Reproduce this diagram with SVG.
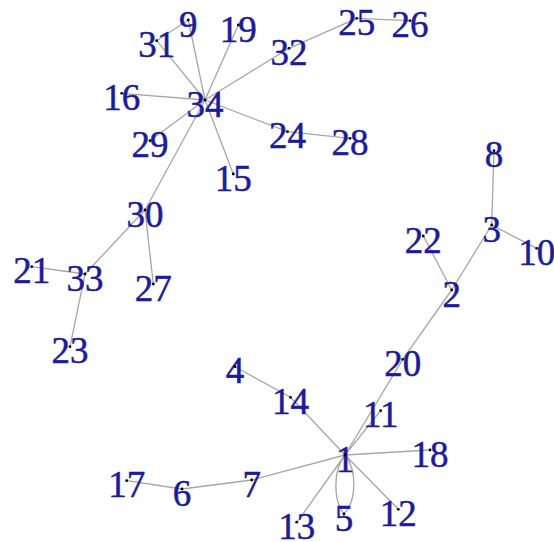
<svg xmlns="http://www.w3.org/2000/svg" width="554" height="542" viewBox="0 0 554 542">
<style>
.e{stroke:#a6a6a6;stroke-width:1.3;fill:none}
.n text{font-family:"Liberation Serif","Times New Roman",serif;font-size:37px;fill:#1c1c98;stroke:#1c1c98;stroke-width:0.5;text-anchor:middle}
.n circle{fill:#000}
</style>
<rect width="554" height="542" fill="#fff"/>
<g id="edges">
<line class="e" x1="188.3" y1="20" x2="156.7" y2="40.7"/>
<line class="e" x1="188.3" y1="20" x2="205" y2="100"/>
<line class="e" x1="156.7" y1="40.7" x2="205" y2="100"/>
<line class="e" x1="238.3" y1="25" x2="205" y2="100"/>
<line class="e" x1="289" y1="48.3" x2="205" y2="100"/>
<line class="e" x1="121.7" y1="93.3" x2="205" y2="100"/>
<line class="e" x1="150" y1="140.7" x2="205" y2="100"/>
<line class="e" x1="287.5" y1="131.7" x2="205" y2="100"/>
<line class="e" x1="233.3" y1="174" x2="205" y2="100"/>
<line class="e" x1="145" y1="210" x2="205" y2="100"/>
<line class="e" x1="289" y1="48.3" x2="356.7" y2="18.3"/>
<line class="e" x1="356.7" y1="18.3" x2="410" y2="20.7"/>
<line class="e" x1="287.5" y1="131.7" x2="350" y2="138.3"/>
<line class="e" x1="145" y1="210" x2="85" y2="274"/>
<line class="e" x1="145" y1="210" x2="153.3" y2="284"/>
<line class="e" x1="85" y1="274" x2="31.7" y2="266.7"/>
<line class="e" x1="85" y1="274" x2="70" y2="346.7"/>
<line class="e" x1="491.7" y1="225" x2="494" y2="150.7"/>
<line class="e" x1="491.7" y1="225" x2="536.7" y2="248.3"/>
<line class="e" x1="491.7" y1="225" x2="451.7" y2="290"/>
<line class="e" x1="451.7" y1="290" x2="423.3" y2="236"/>
<line class="e" x1="451.7" y1="290" x2="402.7" y2="359.3"/>
<line class="e" x1="402.7" y1="359.3" x2="345" y2="455"/>
<line class="e" x1="380.7" y1="410.7" x2="345" y2="455"/>
<line class="e" x1="290.5" y1="397.3" x2="345" y2="455"/>
<line class="e" x1="290.5" y1="397.3" x2="235" y2="366.7"/>
<line class="e" x1="430" y1="450" x2="345" y2="455"/>
<line class="e" x1="398.3" y1="509.3" x2="345" y2="455"/>
<line class="e" x1="296.7" y1="522.7" x2="345" y2="455"/>
<line class="e" x1="251.7" y1="480" x2="345" y2="455"/>
<line class="e" x1="251.7" y1="480" x2="182" y2="489"/>
<line class="e" x1="182" y1="489" x2="126.7" y2="480.7"/>
<path class="e" d="M345,455 C333,470 333,500 344,514"/>
<path class="e" d="M345,455 C357,470 357,500 344,514"/>
</g>
<g id="n1" class="n"><text x="345" y="471.5">1</text><circle cx="345" cy="455" r="1.4"/></g>
<g id="n2" class="n"><text x="451.7" y="306.5">2</text><circle cx="451.7" cy="290" r="1.4"/></g>
<g id="n3" class="n"><text x="491.7" y="241.5">3</text><circle cx="491.7" cy="225" r="1.4"/></g>
<g id="n4" class="n"><text x="235" y="383.2">4</text><circle cx="235" cy="366.7" r="1.4"/></g>
<g id="n5" class="n"><text x="344" y="530.5">5</text><circle cx="344" cy="514" r="1.4"/></g>
<g id="n6" class="n"><text x="182" y="505.5">6</text><circle cx="182" cy="489" r="1.4"/></g>
<g id="n7" class="n"><text x="251.7" y="496.5">7</text><circle cx="251.7" cy="480" r="1.4"/></g>
<g id="n8" class="n"><text x="494" y="167.2">8</text><circle cx="494" cy="150.7" r="1.4"/></g>
<g id="n9" class="n"><text x="188.3" y="36.5">9</text><circle cx="188.3" cy="20" r="1.4"/></g>
<g id="n10" class="n"><text x="536.7" y="264.8">10</text><circle cx="536.7" cy="248.3" r="1.4"/></g>
<g id="n11" class="n"><text x="380.7" y="427.2">11</text><circle cx="380.7" cy="410.7" r="1.4"/></g>
<g id="n12" class="n"><text x="398.3" y="525.8">12</text><circle cx="398.3" cy="509.3" r="1.4"/></g>
<g id="n13" class="n"><text x="296.7" y="538.5">13</text><circle cx="296.7" cy="522.2" r="1.4"/></g>
<g id="n14" class="n"><text x="290.5" y="413.8">14</text><circle cx="290.5" cy="397.3" r="1.4"/></g>
<g id="n15" class="n"><text x="233.3" y="190.5">15</text><circle cx="233.3" cy="174" r="1.4"/></g>
<g id="n16" class="n"><text x="121.7" y="109.8">16</text><circle cx="121.7" cy="93.3" r="1.4"/></g>
<g id="n17" class="n"><text x="126.7" y="497.2">17</text><circle cx="126.7" cy="480.7" r="1.4"/></g>
<g id="n18" class="n"><text x="430" y="466.5">18</text><circle cx="430" cy="450" r="1.4"/></g>
<g id="n19" class="n"><text x="238.3" y="41.5">19</text><circle cx="238.3" cy="25" r="1.4"/></g>
<g id="n20" class="n"><text x="402.7" y="375.8">20</text><circle cx="402.7" cy="359.3" r="1.4"/></g>
<g id="n21" class="n"><text x="31.7" y="283.2">21</text><circle cx="31.7" cy="266.7" r="1.4"/></g>
<g id="n22" class="n"><text x="423.3" y="252.5">22</text><circle cx="423.3" cy="236" r="1.4"/></g>
<g id="n23" class="n"><text x="70" y="363.2">23</text><circle cx="70" cy="346.7" r="1.4"/></g>
<g id="n24" class="n"><text x="287.5" y="148.2">24</text><circle cx="287.5" cy="131.7" r="1.4"/></g>
<g id="n25" class="n"><text x="356.7" y="34.8">25</text><circle cx="356.7" cy="18.3" r="1.4"/></g>
<g id="n26" class="n"><text x="410" y="37.2">26</text><circle cx="410" cy="20.7" r="1.4"/></g>
<g id="n27" class="n"><text x="153.3" y="300.5">27</text><circle cx="153.3" cy="284" r="1.4"/></g>
<g id="n28" class="n"><text x="350" y="154.8">28</text><circle cx="350" cy="138.3" r="1.4"/></g>
<g id="n29" class="n"><text x="150" y="157.2">29</text><circle cx="150" cy="140.7" r="1.4"/></g>
<g id="n30" class="n"><text x="145" y="226.5">30</text><circle cx="145" cy="210" r="1.4"/></g>
<g id="n31" class="n"><text x="156.7" y="57.2">31</text><circle cx="156.7" cy="40.7" r="1.4"/></g>
<g id="n32" class="n"><text x="289" y="64.8">32</text><circle cx="289" cy="48.3" r="1.4"/></g>
<g id="n33" class="n"><text x="85" y="290.5">33</text><circle cx="85" cy="274" r="1.4"/></g>
<g id="n34" class="n"><text x="205" y="116.5">34</text><circle cx="205" cy="100" r="1.4"/></g>
</svg>
